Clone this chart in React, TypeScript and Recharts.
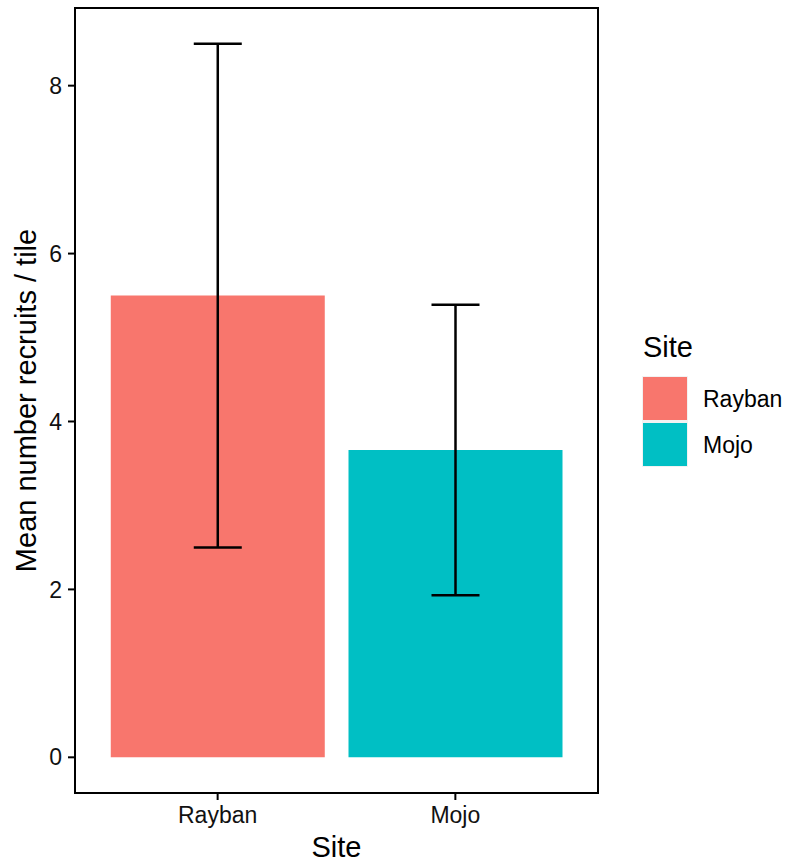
import React from 'react';
import { ComposedChart, Bar, Cell, XAxis, YAxis, ErrorBar, Legend, ReferenceArea } from 'recharts';

const sites = ['Rayban', 'Mojo'];
const means = [5.5, 3.66];
const lowers = [2.5, 1.93];
const uppers = [8.5, 5.39];
const colors = ['#F8766D', '#00BFC4'];
const yTicks = [0, 2, 4, 6, 8];
const yDomain = [-0.425, 8.925];
const xPositions = [1, 2];
const xDomain = [0.4, 2.6];

const data = sites.map((s, i) => ({
  site: s,
  pos: xPositions[i],
  mean: means[i],
  err: [means[i] - lowers[i], uppers[i] - means[i]],
}));

const FONT = '"Liberation Sans", Arial, Helvetica, sans-serif';

const LegendContent = () => (
  <svg width={160} height={160} style={{ display: 'block', fontFamily: FONT }}>
    <text x={13} y={37} fontSize={29} fill="#000">Site</text>
    <rect x={12} y={56} width={46} height={91} fill="#F2F2F2" />
    {sites.map((s, i) => (
      <g key={s}>
        <rect x={13} y={57 + i * 46} width={44} height={43} fill={colors[i]} />
        <text x={73} y={78.5 + i * 46} fontSize={23} fill="#000" dominantBaseline="central">{s}</text>
      </g>
    ))}
  </svg>
);

export default function App() {
  return (
    <div style={{ position: 'absolute', left: 0, top: 0, width: 789, height: 865, background: '#fff' }}>
      <ComposedChart
        width={789}
        height={865}
        data={data}
        margin={{ top: 8, right: 191, left: 0, bottom: 0 }}
        style={{ fontFamily: FONT }}
      >
        <XAxis
          dataKey="pos"
          type="number"
          domain={xDomain}
          ticks={xPositions}
          allowDataOverflow
          tickFormatter={(v: number) => sites[xPositions.indexOf(v)] ?? ''}
          height={72}
          tickSize={7}
          tickMargin={7}
          axisLine={{ stroke: '#000', strokeWidth: 2 }}
          tickLine={{ stroke: '#000', strokeWidth: 2 }}
          tick={{ fontSize: 23, fill: '#111', fontFamily: FONT }}
          label={{
            content: (props: any) => {
              const vb = props.viewBox || {};
              return (
                <text x={vb.x + vb.width / 2} y={vb.y + 64} textAnchor="middle" fontSize={29} fill="#000" fontFamily={FONT}>
                  Site
                </text>
              );
            },
          }}
        />
        <YAxis
          type="number"
          domain={yDomain}
          ticks={yTicks}
          allowDataOverflow
          width={75}
          tickSize={7}
          tickMargin={6}
          axisLine={{ stroke: '#000', strokeWidth: 2 }}
          tickLine={{ stroke: '#000', strokeWidth: 2 }}
          tick={{ fontSize: 23, fill: '#111', fontFamily: FONT }}
          label={{
            content: (props: any) => {
              const vb = props.viewBox || {};
              const cx = 36;
              const cy = vb.y + vb.height / 2;
              return (
                <text x={cx} y={cy} transform={`rotate(-90, ${cx}, ${cy})`} textAnchor="middle" fontSize={29} fill="#000" fontFamily={FONT}>
                  Mean number recruits / tile
                </text>
              );
            },
          }}
        />
        <Legend
          layout="vertical"
          align="center"
          verticalAlign="middle"
          wrapperStyle={{ left: 630, top: 320, width: 160, height: 160 }}
          content={() => <LegendContent />}
        />
        <Bar dataKey="mean" barSize={214} isAnimationActive={false}>
          {data.map((d, i) => (
            <Cell key={d.site} fill={colors[i]} />
          ))}
          <ErrorBar dataKey="err" width={24} stroke="#000" strokeWidth={2.5} isAnimationActive={false} />
        </Bar>
        <ReferenceArea
          x1={xDomain[0]}
          x2={xDomain[1]}
          y1={yDomain[0]}
          y2={yDomain[1]}
          ifOverflow="visible"
          fill="none"
          fillOpacity={0}
          stroke="#000"
          strokeWidth={2}
          strokeOpacity={1}
        />
      </ComposedChart>
    </div>
  );
}
